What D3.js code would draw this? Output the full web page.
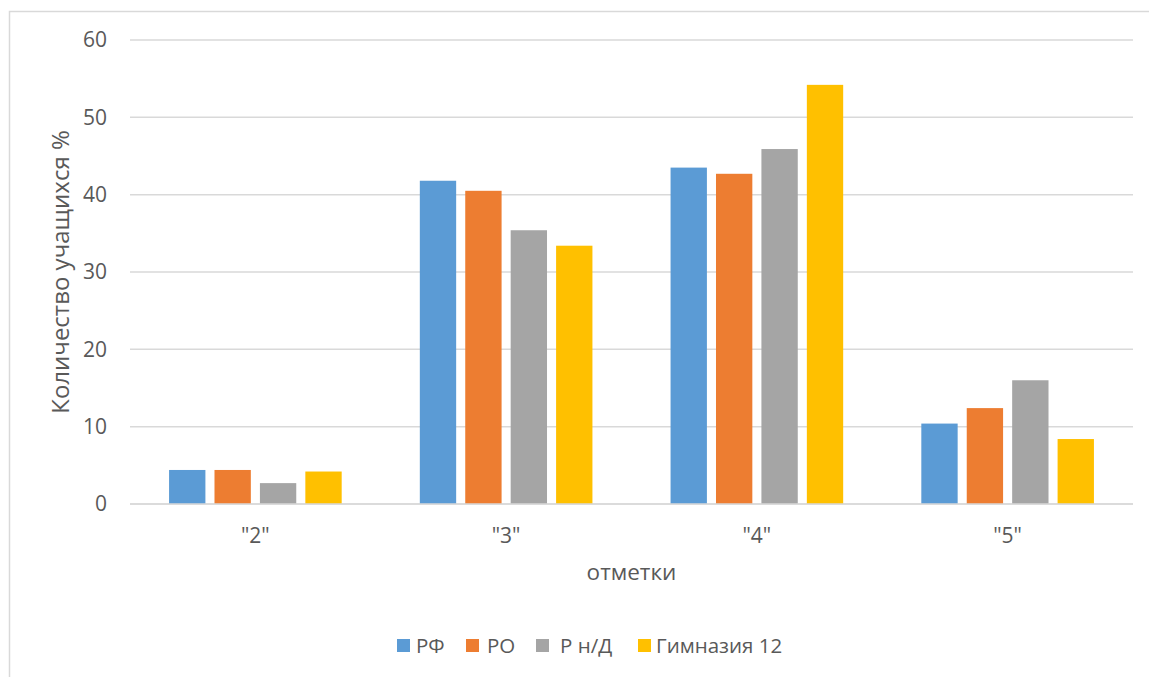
<!DOCTYPE html>
<html><head><meta charset="utf-8">
<script src="https://cdn.jsdelivr.net/npm/d3@7"></script>
<style>body{margin:0;background:#fff}svg{display:block}text{font-family:"Open Sans",sans-serif;fill:#595959}</style>
</head><body>
<script>
const categories = ['"2"', '"3"', '"4"', '"5"'];
const seriesNames = ["РФ", "РО", "Р н/Д", "Гимназия 12"];
const seriesColors = ["#5b9bd5", "#ed7d31", "#a5a5a5", "#ffc000"];
const valsRF = [4.4, 41.8, 43.5, 10.4];
const valsRO = [4.4, 40.5, 42.7, 12.4];
const valsRnD = [2.7, 35.4, 45.9, 16.0];
const valsGym = [4.2, 33.4, 54.2, 8.4];
const yTicks = [0, 10, 20, 30, 40, 50, 60];
const seriesValues = [valsRF, valsRO, valsRnD, valsGym];

(function () {
const W = 1149, H = 677;
const svg = d3.select("body").append("svg").attr("width", W).attr("height", H);
svg.append("rect").attr("x", 9.5).attr("y", 11.5).attr("width", W + 20).attr("height", H + 20)
  .attr("fill", "none").attr("stroke", "#d9d9d9").attr("stroke-width", 1.5);

const pL = 130, pR = 1133, pT = 40, pB = 504;
const x0 = d3.scaleBand().domain(categories).range([pL, pR]).paddingInner(0).paddingOuter(0);
const y = d3.scaleLinear().domain([0, 60]).range([pB, pT]);
const x1 = d3.scaleBand().domain(d3.range(4)).range([0, x0.bandwidth()]).paddingInner(0.2).paddingOuter(0.86);

svg.append("g").selectAll("line").data(yTicks).join("line")
  .attr("x1", pL).attr("x2", pR).attr("y1", d => y(d)).attr("y2", d => y(d))
  .attr("stroke", "#d9d9d9").attr("stroke-width", 1.5);

svg.append("g").selectAll("text").data(yTicks).join("text")
  .attr("x", 107).attr("y", d => y(d)).attr("dy", "0.35em").attr("text-anchor", "end")
  .attr("font-size", 21).text(d => d);

const rows = categories.map((c, i) => ({c, vals: seriesValues.map(s => s[i])}));
const g = svg.append("g").selectAll("g").data(rows).join("g")
  .attr("transform", d => `translate(${x0(d.c)},0)`);
g.selectAll("rect").data(d => d.vals.map((v, k) => ({v, k}))).join("rect")
  .attr("x", d => x1(d.k)).attr("width", x1.bandwidth())
  .attr("y", d => y(d.v)).attr("height", d => y(0) - y(d.v))
  .attr("fill", d => seriesColors[d.k]);

svg.append("line").attr("x1", pL).attr("x2", pR).attr("y1", y(0)).attr("y2", y(0))
  .attr("stroke", "#d9d9d9").attr("stroke-width", 1.5);

svg.append("g").selectAll("text").data(categories).join("text")
  .attr("x", d => x0(d) + x0.bandwidth() / 2).attr("y", 536).attr("dy", "0.35em")
  .attr("text-anchor", "middle").attr("font-size", 21).text(d => d);

svg.append("text").attr("x", (pL + pR) / 2).attr("y", 572).attr("dy", "0.35em")
  .attr("text-anchor", "middle").attr("font-size", 22.5).text("отметки");
svg.append("text").attr("transform", `translate(61,272) rotate(-90)`).attr("dy", "0.35em")
  .attr("text-anchor", "middle").attr("font-size", 24).text("Количество учащихся %");

const legX = [397, 466, 536, 638];
const legTextX = [416, 487, 560, 656];
const leg = svg.append("g").selectAll("g").data(seriesNames).join("g");
leg.append("rect").attr("x", (d, i) => legX[i]).attr("y", 639).attr("width", 13).attr("height", 13)
  .attr("fill", (d, i) => seriesColors[i]);
leg.append("text").attr("x", (d, i) => legTextX[i]).attr("y", 645.5).attr("dy", "0.35em")
  .attr("font-size", 20.5).text(d => d);
})();
</script>
</body></html>
